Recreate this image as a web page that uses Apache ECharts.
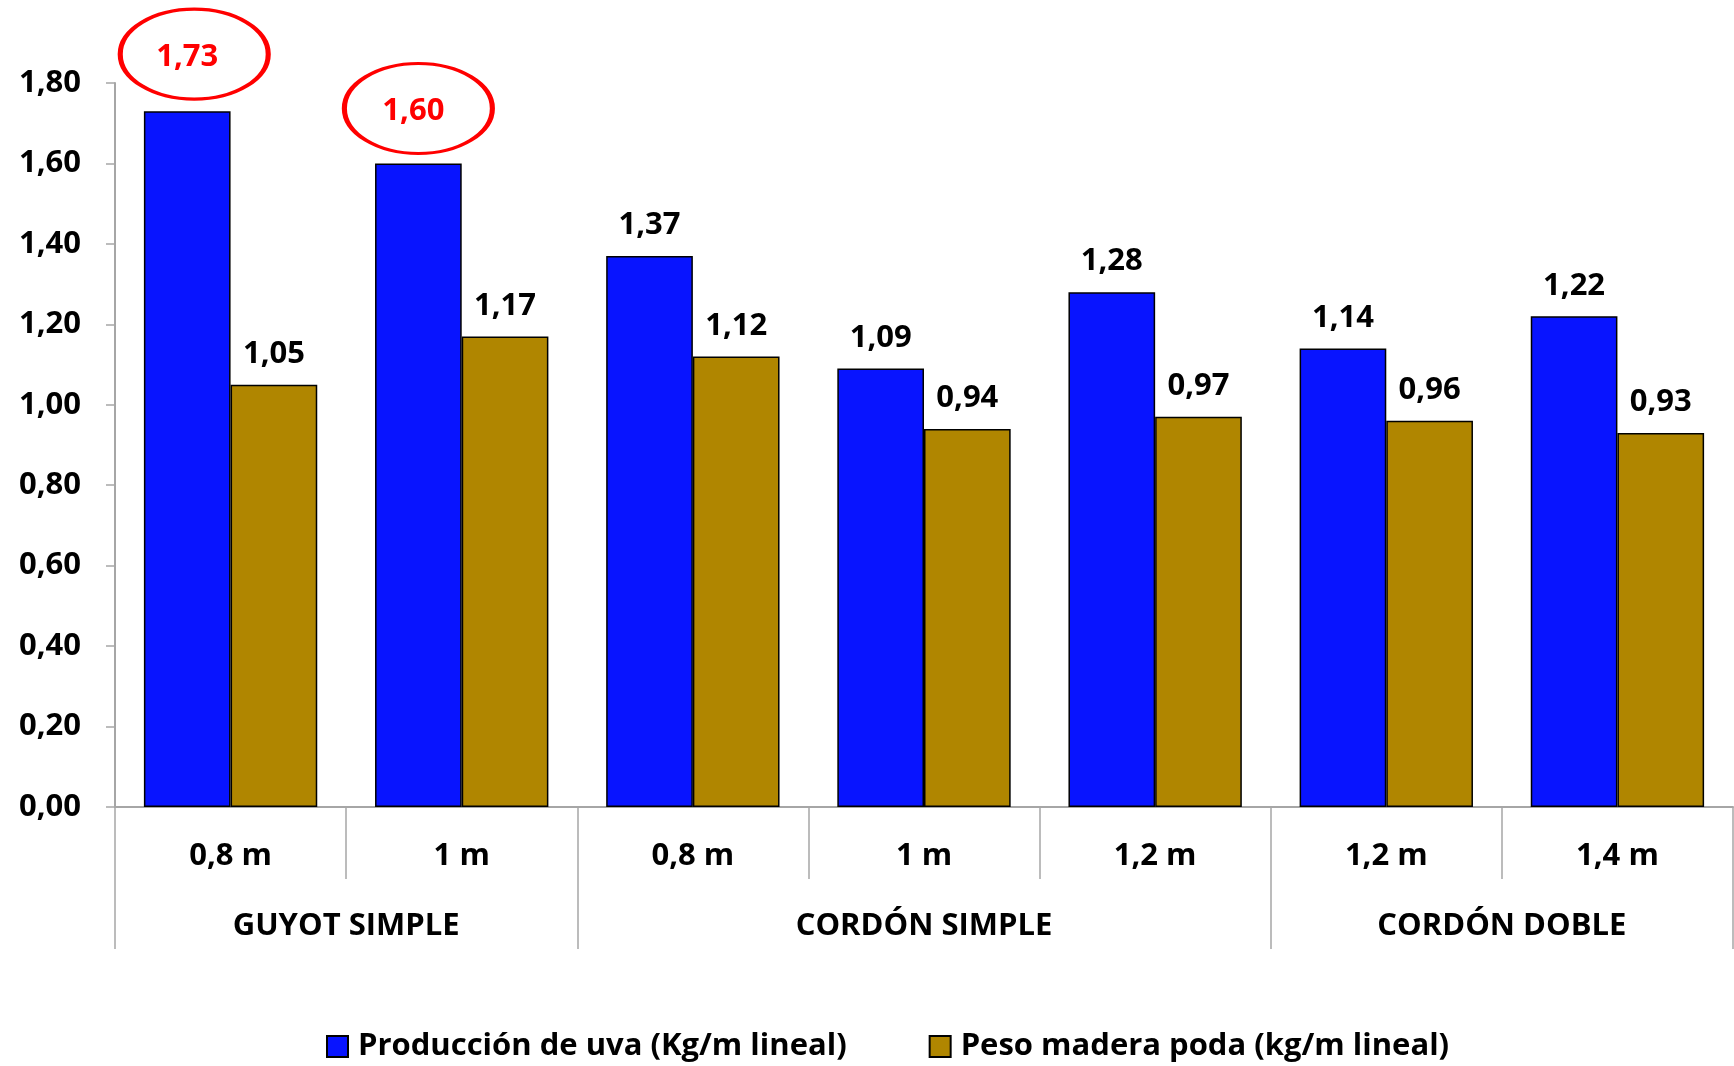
<!DOCTYPE html>
<html>
<head>
<meta charset="utf-8">
<script src="https://cdn.jsdelivr.net/npm/echarts@6/dist/echarts.min.js"></script>
<style>
html,body{margin:0;padding:0;background:#fff;}
#chart{width:1734px;height:1066px;}
</style>
</head>
<body>
<div id="chart"></div>
<script>
var categories = ['0,8 m', '1 m', '0,8 m', '1 m', '1,2 m', '1,2 m', '1,4 m'];
var groupNames = ['GUYOT SIMPLE', 'CORDÓN SIMPLE', 'CORDÓN DOBLE'];
var groupSpans = [2, 3, 2];
var produccion = [1.73, 1.60, 1.37, 1.09, 1.28, 1.14, 1.22];
var peso = [1.05, 1.17, 1.12, 0.94, 0.97, 0.96, 0.93];
var highlighted = [0, 1];
var seriesNames = ['Producción de uva (Kg/m lineal)', 'Peso madera poda (kg/m lineal)'];
var yTicks = { min: 0, max: 1.8, interval: 0.2 };

var FONT = 'Open Sans';
function fmt(v) { return v.toFixed(2).replace('.', ','); }

var bounds = [0];
groupSpans.forEach(function (s) { bounds.push(bounds[bounds.length - 1] + s); });
var centers = groupSpans.map(function (s, i) { return bounds[i] + s / 2; });

var ellipseOffsets = [[7, -57], [0, -55]];
var ellipseLabelOffsets = [[-7, 3], [-5, 3]];

var chart = echarts.init(document.getElementById('chart'));
var txt = { fontFamily: FONT, fontWeight: 'bold', fontSize: 31, color: '#000' };

chart.setOption({
  animation: false,
  backgroundColor: '#fff',
  grid: { left: 115, right: 1, top: 83, bottom: 259, containLabel: false },
  legend: {
    left: 326, top: 1031, padding: 0,
    itemWidth: 21, itemHeight: 21, itemGap: 82,
    textStyle: Object.assign({}, txt, { padding: [0, 0, 0, 5] }),
    data: seriesNames.map(function (n) { return { name: n, icon: 'rect' }; })
  },
  xAxis: [
    {
      type: 'category', data: categories, position: 'bottom',
      axisLine: { show: true, lineStyle: { color: '#a6a6a6', width: 2 } },
      axisTick: { show: true, interval: 0, length: 72, lineStyle: { color: '#a6a6a6', width: 1.5 } },
      axisLabel: Object.assign({}, txt, { interval: 0, margin: 34 }),
      splitLine: { show: false }
    },
    {
      type: 'value', min: 0, max: categories.length, position: 'bottom',
      axisLine: { show: false },
      axisTick: { show: true, customValues: bounds, length: 142, lineStyle: { color: '#a6a6a6', width: 1.5 } },
      axisLabel: Object.assign({}, txt, {
        customValues: centers, margin: 104,
        formatter: function (v) {
          var i = centers.indexOf(v);
          return i >= 0 ? groupNames[i] : '';
        }
      }),
      splitLine: { show: false }
    }
  ],
  yAxis: {
    type: 'value', min: yTicks.min, max: yTicks.max, interval: yTicks.interval,
    axisLine: { show: true, lineStyle: { color: '#a6a6a6', width: 2 } },
    axisTick: { show: true, length: 9, lineStyle: { color: '#a6a6a6', width: 1.5 } },
    axisLabel: Object.assign({}, txt, { margin: 34, formatter: function (v) { return fmt(v); } }),
    splitLine: { show: false }
  },
  series: [
    {
      name: seriesNames[0], type: 'bar', xAxisIndex: 0,
      barGap: '0%', barCategoryGap: '25%',
      itemStyle: { color: '#0814ff', borderColor: '#000', borderWidth: 1.5 },
      label: Object.assign({}, txt, { show: true, position: 'top', distance: 15,
        formatter: function (p) { return fmt(p.value); } }),
      data: produccion.map(function (v, i) {
        return highlighted.indexOf(i) >= 0 ? { value: v, label: { show: false } } : v;
      }),
      markPoint: {
        symbol: 'circle', symbolSize: [148, 90],
        itemStyle: { color: 'rgba(0,0,0,0)', borderColor: '#ff0000', borderWidth: 4 },
        label: Object.assign({}, txt, { show: true, position: 'inside', color: '#ff0000',
          formatter: function (p) { return fmt(p.value); } }),
        data: highlighted.map(function (i, k) {
          return { coord: [i, produccion[i]], value: produccion[i], symbolOffset: ellipseOffsets[k],
                   label: { offset: ellipseLabelOffsets[k] } };
        })
      }
    },
    {
      name: seriesNames[1], type: 'bar', xAxisIndex: 0,
      barGap: '0%', barCategoryGap: '25%',
      itemStyle: { color: '#b08600', borderColor: '#000', borderWidth: 1.5 },
      label: Object.assign({}, txt, { show: true, position: 'top', distance: 15,
        formatter: function (p) { return fmt(p.value); } }),
      data: peso
    }
  ]
});
</script>
</body>
</html>
